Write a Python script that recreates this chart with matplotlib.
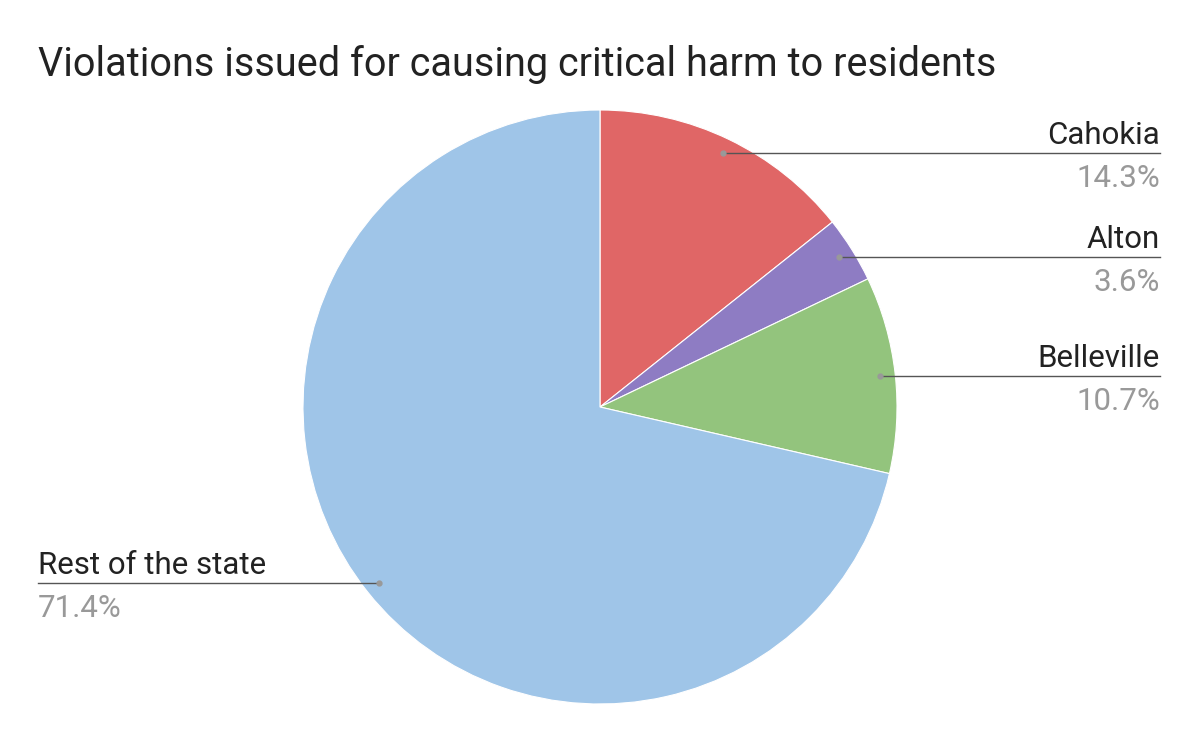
import matplotlib
matplotlib.use("Agg")
import matplotlib.pyplot as plt
import numpy as np

labels = ["Cahokia", "Alton", "Belleville", "Rest of the state"]
values = [14.3, 3.6, 10.7, 71.4]
colors = ["#e06666", "#8e7cc3", "#93c47d", "#9fc5e8"]

plt.rcParams['font.family'] = ['Roboto', 'DejaVu Sans']
W, H = 1200, 742
fig = plt.figure(figsize=(12, 7.42), dpi=100)
cx, cy, R = 600, 407, 297
ax = fig.add_axes([(cx - R) / W, (H - cy - R) / H, 2 * R / W, 2 * R / H])
wedges, _ = ax.pie(values, colors=colors, startangle=90, counterclock=False,
                   radius=1, wedgeprops=dict(linewidth=0.8, edgecolor="white"))
ax.set_xlim(-1, 1); ax.set_ylim(-1, 1); ax.set_aspect('equal'); ax.axis('off')

fig.text(38 / W, 1 - 76 / H, "Violations issued for causing critical harm to residents",
         fontsize=28.5, color="#222222", ha='left', va='baseline')

total = sum(values)
cum = 0
for lab, v in zip(labels, values):
    mid = (cum + v / 2) / total * 2 * np.pi
    cum += v
    x, y = 0.95 * np.sin(mid), 0.95 * np.cos(mid)
    if x > 0:
        xe = (1160 - cx) / R; ha = 'right'
    else:
        xe = (38 - cx) / R; ha = 'left'
    ax.plot([x, xe], [y, y], color="#555555", lw=1, clip_on=False)
    ax.plot([x], [y], 'o', color="#999999", ms=3.5, clip_on=False)
    ax.text(xe, y + 9 / R, lab, fontsize=22.5, color="#222222", ha=ha, va='baseline')
    ax.text(xe, y - 34 / R, f"{v:.1f}%", fontsize=22.5, color="#999999", ha=ha, va='baseline')

fig.savefig("out.png", dpi=100, facecolor="white")
